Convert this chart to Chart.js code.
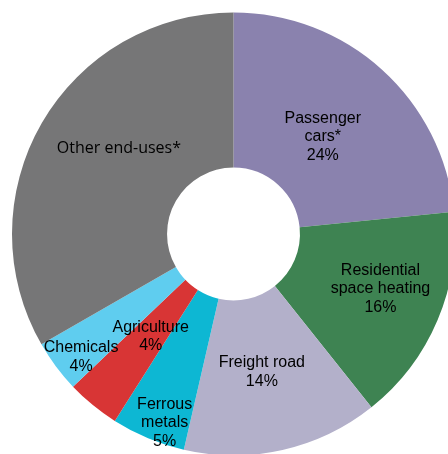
<!DOCTYPE html>
<html>
<head>
<meta charset="utf-8">
<script src="https://cdn.jsdelivr.net/npm/chart.js@4"></script>
<style>
    html, body { margin: 0; padding: 0; background: #fff; overflow: hidden; }
    #wrap { position: absolute; left: 0; top: 0; width: 467px; height: 468px; }
</style>
</head>
<body>
<div id="wrap"><canvas id="pie"></canvas></div>
<script>
// slices, clockwise from 12 o'clock
const categories = ['Passenger cars*', 'Residential space heating', 'Freight road', 'Ferrous metals', 'Agriculture', 'Chemicals', 'Other end-uses*'];
const shares = [23.4, 15.9, 14.3, 5.4, 3.9, 3.8, 33.3];
const labelLines = [
    ['Passenger', 'cars*', '24%'],
    ['Residential', 'space heating', '16%'],
    ['Freight road', '14%'],
    ['Ferrous', 'metals', '5%'],
    ['Agriculture', '4%'],
    ['Chemicals', '4%'],
    ['Other end-uses*']
];
const colors = ['#8A82AE', '#3E8352', '#B3B0CA', '#0DB7D3', '#D83535', '#5FCDEF', '#767677'];

// where the label sits: f = fraction along the slice, r = fraction across the ring
const labelPos = [
    { f: 0.50, r: 0.43 },
    { f: 0.45, r: 0.58 },
    { f: 0.52, r: 0.47 },
    { f: 0.37, r: 0.86 },
    { f: 0.49, r: 0.415 },
    { f: 0.36, r: 0.83 },
    { f: 0.56, r: 0.50 }
];

const sliceLabels = {
    id: 'sliceLabels',
    afterDatasetsDraw(chart) {
        const ctx = chart.ctx;
        const meta = chart.getDatasetMeta(0);
        ctx.save();
        ctx.fillStyle = '#000';
        ctx.textAlign = 'center';
        ctx.textBaseline = 'middle';
        meta.data.forEach((arc, i) => {
            const p = labelPos[i];
            const a = arc.startAngle + (arc.endAngle - arc.startAngle) * p.f;
            const r = arc.innerRadius + (arc.outerRadius - arc.innerRadius) * p.r;
            const x = arc.x + Math.cos(a) * r;
            const y = arc.y + Math.sin(a) * r + 1.5;
            const lines = labelLines[i];
            ctx.font = i === 6 ? '16px "Open Sans"' : '16px "Liberation Sans", Arial';
            const lh = 18.5;
            lines.forEach((t, k) => {
                ctx.fillText(t, x, y + (k - (lines.length - 1) / 2) * lh);
            });
        });
        ctx.restore();
    }
};

new Chart(document.getElementById('pie'), {
    type: 'doughnut',
    data: {
        labels: categories,
        datasets: [{
            data: shares,
            backgroundColor: colors,
            borderWidth: 0
        }]
    },
    options: {
        responsive: true,
        maintainAspectRatio: false,
        animation: false,
        cutout: '30%',
        layout: { padding: 12 },
        plugins: {
            legend: { display: false },
            tooltip: { enabled: false }
        }
    },
    plugins: [sliceLabels]
});
</script>
</body>
</html>
